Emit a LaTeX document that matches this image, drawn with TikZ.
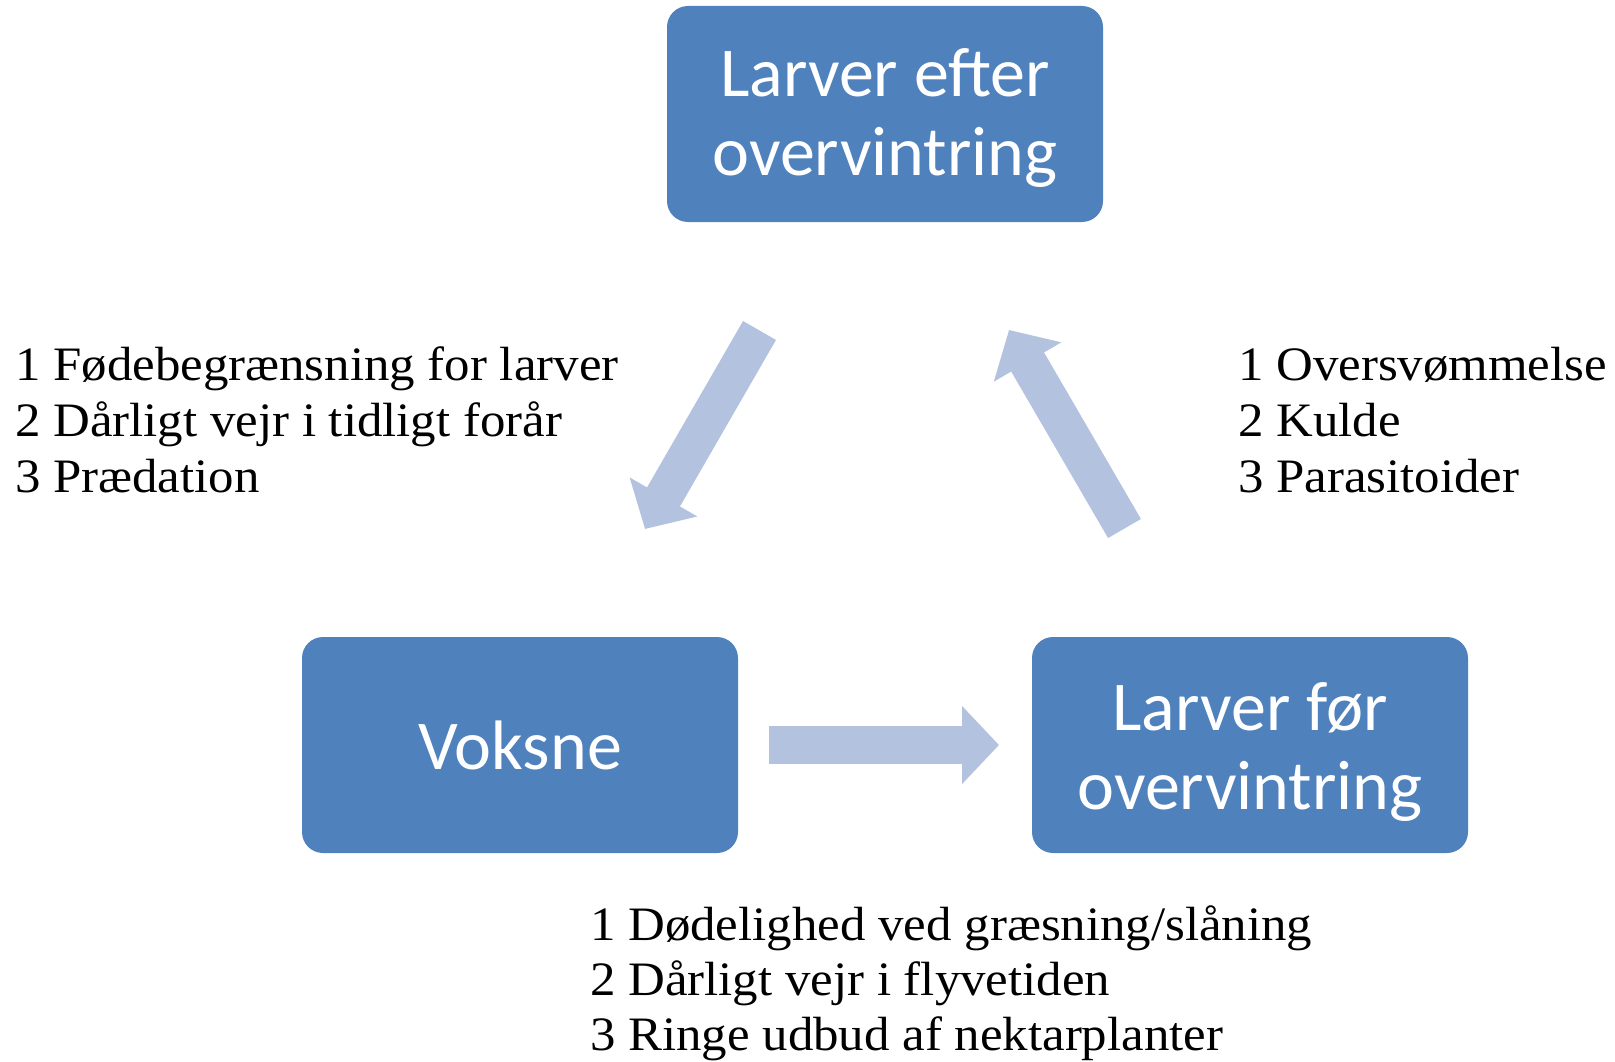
\documentclass[tikz,border=0pt]{standalone}
\usepackage{fontspec}
\setmainfont{Liberation Serif}[FakeStretch=1.06]
\newfontfamily\boxfont{Carlito}
\usetikzlibrary{arrows.meta}

\definecolor{stageblue}{RGB}{79,129,189}
\definecolor{flowblue}{RGB}{179,194,222}

\tikzset{
    stagebox/.style={rectangle, rounded corners=21pt, fill=stageblue, text=white,
        minimum width=436pt, minimum height=216pt, inner sep=0pt, align=center,
        font=\boxfont\fontsize{70}{79}\selectfont},
    flowarrow/.style={draw=flowblue, line width=38pt,
        -{Triangle[length=37pt, width=76pt]}},
    factor/.style={anchor=base west, inner sep=0pt,
        font=\fontsize{48}{56}\selectfont}
}

\begin{document}
\begin{tikzpicture}[x=1pt, y=-1pt]
    % Page frame
    \useasboundingbox (0,0) rectangle (1615,1062);

    % The three stages of the life cycle
    \node[stagebox] (efter) at (885,114) {\rule{0pt}{56pt}Larver efter\\overvintring};
    \node[stagebox] (voksne) at (520,745) {Voksne};
    \node[stagebox] (foer) at (1250,745) {\rule{0pt}{62pt}Larver før\\overvintring};

    % End points of the block arrows
    \coordinate (a1s) at (759.5,330.5);
    \coordinate (a1e) at (645,529);
    \coordinate (a2s) at (1124.5,528.5);
    \coordinate (a2e) at (1009,330);
    \coordinate (a3s) at (769,745);
    \coordinate (a3e) at (999,745);

    % Block arrows between the stages
    \draw[flowarrow] (a1s) -- (a1e);
    \draw[flowarrow] (a2s) -- (a2e);
    \draw[flowarrow] (a3s) -- (a3e);

    % Mortality factors, left
    \node[factor] (l1) at (15,380) {1 Fødebegrænsning for larver};
    \node[factor] (l2) at (15,436) {2 Dårligt vejr i tidligt forår};
    \node[factor] (l3) at (15,492) {3 Prædation};

    % Mortality factors, right
    \node[factor] (r1) at (1238,380) {1 Oversvømmelse};
    \node[factor] (r2) at (1238,436) {2 Kulde};
    \node[factor] (r3) at (1238,492) {3 Parasitoider};

    % Mortality factors, bottom
    \node[factor] (b1) at (590,940) {1 Dødelighed ved græsning/slåning};
    \node[factor] (b2) at (590,995) {2 Dårligt vejr i flyvetiden};
    \node[factor] (b3) at (590,1050) {3 Ringe udbud af nektarplanter};
\end{tikzpicture}
\end{document}
